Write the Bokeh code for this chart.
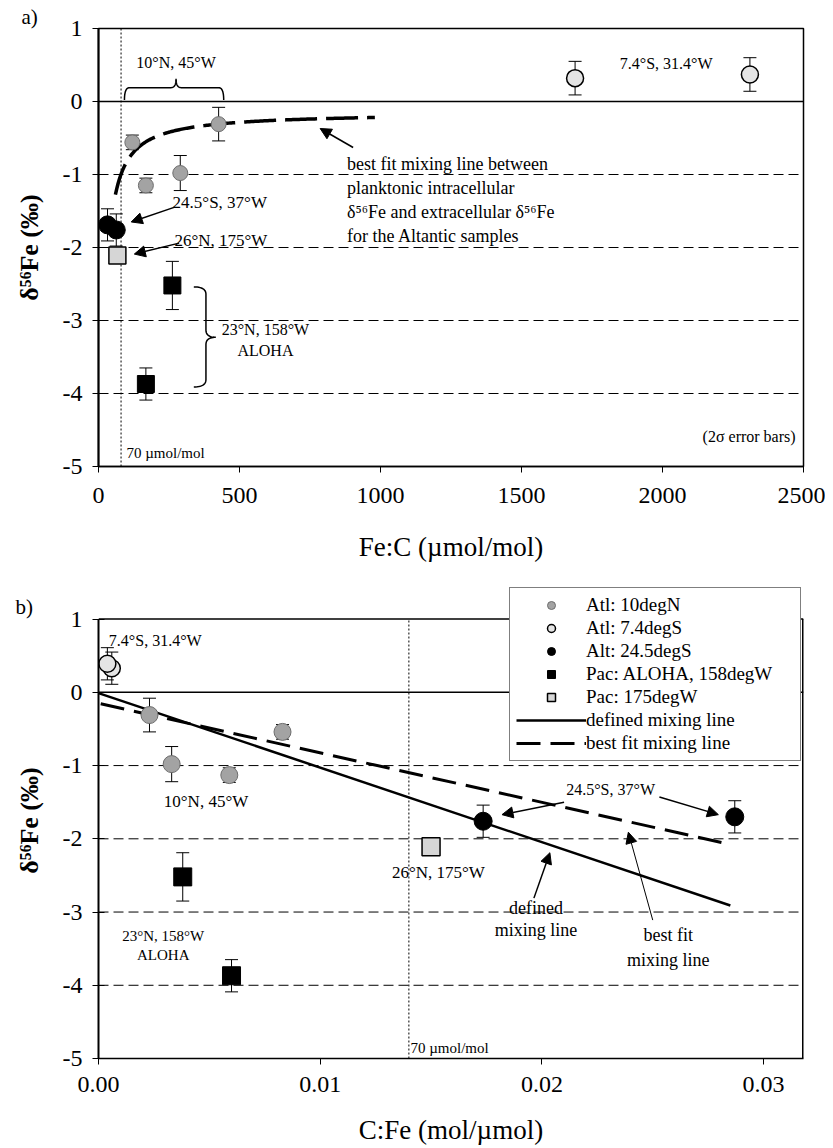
import numpy as np
from bokeh.plotting import figure
from bokeh.models import (Range1d, FixedTicker, Span, Label, Arrow, NormalHead, Whisker, TeeHead,
                          ColumnDataSource, Legend, LegendItem, NumeralTickFormatter, Title)
from bokeh.layouts import column
from bokeh.embed import file_html
from bokeh.resources import INLINE

FONT = "Liberation Serif"

# ---------------- data: panel a, Fe:C (umol/mol) vs d56Fe (permil) ----------------
a_atl10_x = [120, 168, 290, 426]
a_atl10_y = [-0.56, -1.15, -0.98, -0.31]
a_atl10_e = [0.10, 0.10, 0.24, 0.23]
a_atl74_x = [1690, 2310]
a_atl74_y = [0.32, 0.37]
a_atl74_e = [0.23, 0.23]
a_atl245_x = [32, 63]
a_atl245_y = [-1.69, -1.76]
a_atl245_e = [0.22, 0.22]
a_aloha_x = [262, 168]
a_aloha_y = [-2.52, -3.87]
a_aloha_e = [0.33, 0.22]
a_pac175_x = [67]
a_pac175_y = [-2.11]

# ---------------- data: panel b, C:Fe (mol/umol) vs d56Fe (permil) ----------------
b_atl10_x = [0.0083, 0.0059, 0.0033, 0.0023]
b_atl10_y = [-0.54, -1.13, -0.98, -0.31]
b_atl10_e = [0.10, 0.10, 0.24, 0.23]
b_atl74_x = [0.0006, 0.0004]
b_atl74_y = [0.33, 0.39]
b_atl74_e = [0.22, 0.22]
b_atl245_x = [0.0287, 0.01735]
b_atl245_y = [-1.70, -1.76]
b_atl245_e = [0.22, 0.22]
b_aloha_x = [0.0038, 0.0060]
b_aloha_y = [-2.52, -3.87]
b_aloha_e = [0.33, 0.22]
b_pac175_x = [0.0150]
b_pac175_y = [-2.11]

# mixing lines (linear in C:Fe)
fit_intercept, fit_slope = -0.15, -67.6       # best fit mixing line
fit_b_range = [0.0001, 0.0284]
fit_a_range = [60, 980]                       # same line in Fe:C space
def_intercept, def_slope = -0.01, -101.8      # defined mixing line
def_b_range = [0.0, 0.0285]

vline_a = 80        # "70 umol/mol" marker line as drawn
vline_b = 0.0140

Y_MIN, Y_MAX = -5, 1
XA_MAX = 2500
XB_MAX = 0.0318
Y_MAX_B_VIEW = 1.5    # panel b frame extends above 1 to hold the legend

y_ticks = [-5, -4, -3, -2, -1, 0, 1]
xa_ticks = [0, 500, 1000, 1500, 2000, 2500]
xb_ticks = [0, 0.01, 0.02, 0.03]

legend_labels = ["Atl: 10degN", "Atl: 7.4degS", "Alt: 24.5degS", "Pac: ALOHA, 158degW",
                 "Pac: 175degW", "defined mixing line", "best fit mixing line"]

STY_10N = dict(marker="circle", fill_color="#a3a3a3", line_color="#6e6e6e", line_width=1)
STY_74S = dict(marker="circle", fill_color="#e4e4e4", line_color="black", line_width=1.5)
STY_245 = dict(marker="circle", fill_color="black", line_color="black")
STY_ALO = dict(marker="square", fill_color="black", line_color="black")
STY_175 = dict(marker="square", fill_color="#d6d6d6", line_color="black", line_width=1.5)


def style(p, tick_standoff, xlab_standoff):
    p.xgrid.visible = False
    p.ygrid.visible = False
    p.background_fill_color = "white"
    p.border_fill_color = "white"
    for ax in (p.xaxis[0], p.yaxis[0]):
        ax.major_label_text_font = FONT
        ax.major_label_text_font_size = "24px"
        ax.major_label_text_color = "black"
        ax.axis_label_text_font = FONT
        ax.axis_label_text_color = "black"
        ax.axis_line_color = "black"
        ax.major_tick_line_color = "black"
        ax.minor_tick_line_color = None
    ya = p.yaxis[0]
    ya.ticker = FixedTicker(ticks=y_ticks)
    ya.major_label_overrides = {t: str(t) for t in y_ticks}
    ya.major_tick_in = 6
    ya.major_tick_out = 6
    ya.major_label_standoff = 10
    ya.axis_line_width = 2
    ya.bounds = (Y_MIN, Y_MAX)
    ya.axis_label = "δ⁵⁶Fe (‰)"
    ya.axis_label_text_font_size = "26px"
    ya.axis_label_text_font_style = "bold"
    ya.axis_label_standoff = 16
    xa = p.xaxis[0]
    xa.major_tick_in = 0
    xa.major_tick_out = 6
    xa.major_label_standoff = tick_standoff
    xa.axis_line_width = 1.5
    xa.axis_label_text_font_size = "27px"
    xa.axis_label_text_font_style = "normal"
    xa.axis_label_standoff = xlab_standoff
    for loc in [-1, -2, -3, -4]:
        p.add_layout(Span(location=loc, dimension="width", line_color="black",
                          line_width=1, line_dash="10 5", level="underlay"))
    p.add_layout(Span(location=0, dimension="width", line_color="black",
                      line_width=1.5, level="underlay"))


def panel_tag(p, text, offset, standoff):
    p.add_layout(Title(text=text, align="left", offset=offset, standoff=standoff,
                       text_font=FONT, text_font_size="21px", text_font_style="normal",
                       text_color="black"), "above")


def label(p, x, y, text, size=16, align="center"):
    p.add_layout(Label(x=x, y=y, text=text, text_font=FONT, text_font_size=f"{size}px",
                       text_align=align, text_baseline="middle", text_color="black"))


def arrow(p, x0, y0, x1, y1, w=1.5, head=11):
    p.add_layout(Arrow(end=NormalHead(size=head, fill_color="black", line_color="black", line_width=1),
                       x_start=x0, y_start=y0, x_end=x1, y_end=y1,
                       line_color="black", line_width=w))


def errbars(p, xs, ys, es, cap=13):
    src = ColumnDataSource(dict(x=xs, lo=[y - e for y, e in zip(ys, es)],
                                hi=[y + e for y, e in zip(ys, es)]))
    p.add_layout(Whisker(source=src, base="x", lower="lo", upper="hi", dimension="height",
                         line_color="black", line_width=1,
                         lower_head=TeeHead(size=cap, line_color="black", line_width=1),
                         upper_head=TeeHead(size=cap, line_color="black", line_width=1)))


def qbez(p0, c, p1, n=14):
    t = np.linspace(0, 1, n)[:, None]
    p0, c, p1 = np.array(p0, float), np.array(c, float), np.array(p1, float)
    return (1 - t) ** 2 * p0 + 2 * (1 - t) * t * c + t ** 2 * p1


def brace_pts(a0, a1, am, b_end, b_body, b_tip, r):
    """Brace along axis 'a' from a0 to a1, tip at am; 'b' is the perpendicular axis."""
    segs = [qbez((a0, b_end), (a0, b_body), (a0 + r, b_body)),
            np.array([(am - r, b_body)]),
            qbez((am - r, b_body), (am, b_body), (am, b_tip)),
            qbez((am, b_tip), (am, b_body), (am + r, b_body)),
            np.array([(a1 - r, b_body)]),
            qbez((a1 - r, b_body), (a1, b_body), (a1, b_end))]
    pts = np.vstack(segs)
    return pts[:, 0], pts[:, 1]


# ======================= panel a =======================
pa = figure(width=825, height=580, x_range=Range1d(0, XA_MAX), y_range=Range1d(Y_MIN, Y_MAX),
            output_backend="svg", toolbar_location=None,
            min_border_left=94, min_border_right=22, min_border_top=28, min_border_bottom=114)
style(pa, 15, 26)
pa.outline_line_color = "black"
pa.outline_line_width = 1.5
pa.xaxis[0].ticker = FixedTicker(ticks=xa_ticks)
pa.xaxis[0].axis_label = "Fe:C (µmol/mol)"
pa.add_layout(Span(location=vline_a, dimension="height", line_color="black",
                   line_width=1, line_dash="2 2", level="underlay"))
panel_tag(pa, "a)", -77, 0)

xa_curve = np.linspace(fit_a_range[0], fit_a_range[1], 200)
pa.line(xa_curve, fit_intercept + fit_slope / xa_curve, line_color="black",
        line_width=3.5, line_dash="32 9")

errbars(pa, a_atl10_x, a_atl10_y, a_atl10_e)
errbars(pa, a_atl74_x, a_atl74_y, a_atl74_e)
errbars(pa, a_atl245_x, a_atl245_y, a_atl245_e)
errbars(pa, a_aloha_x, a_aloha_y, a_aloha_e)
pa.scatter(a_atl10_x, a_atl10_y, size=15, **STY_10N)
pa.scatter(a_atl74_x, a_atl74_y, size=17, **STY_74S)
pa.scatter(a_atl245_x, a_atl245_y, size=18, **STY_245)
pa.scatter(a_aloha_x, a_aloha_y, size=17, **STY_ALO)
pa.scatter(a_pac175_x, a_pac175_y, size=17, **STY_175)

bx, by = brace_pts(92, 444, 275, 0.02, 0.19, 0.31, 18)
pa.line(bx, by, line_color="black", line_width=1.5)
by2, bx2 = brace_pts(-2.54, -3.91, -3.23, 338, 381, 416, -0.1)
pa.line(bx2, by2, line_color="black", line_width=1.5)

label(pa, 275, 0.53, "10°N, 45°W", 16)
label(pa, 2013, 0.52, "7.4°S, 31.4°W", 16)
arrow(pa, 903, -0.63, 786, -0.37)
for yy, tt in zip([-0.85, -1.18, -1.52, -1.84],
                  ["best fit mixing line between", "planktonic intracellular",
                   "δ⁵⁶Fe and extracellular δ⁵⁶Fe", "for the Altantic samples"]):
    label(pa, 881, yy, tt, 18, "left")
label(pa, 430, -1.39, "24.5°S, 37°W", 17)
arrow(pa, 268, -1.45, 116, -1.65)
label(pa, 434, -1.90, "26°N, 175°W", 17)
arrow(pa, 286, -1.94, 127, -2.09)
label(pa, 592, -3.12, "23°N, 158°W", 16)
label(pa, 592, -3.41, "ALOHA", 16)
label(pa, 99, -4.81, "70 µmol/mol", 15, "left")
label(pa, 2472, -4.59, "(2σ error bars)", 16, "right")

# ======================= panel b =======================
pb = figure(width=825, height=568, x_range=Range1d(0, XB_MAX),
            y_range=Range1d(Y_MIN, Y_MAX_B_VIEW),
            output_backend="svg", toolbar_location=None,
            min_border_left=98, min_border_right=18, min_border_top=2, min_border_bottom=90)
style(pb, 12, 20)
pb.outline_line_color = None
pb.xaxis[0].ticker = FixedTicker(ticks=xb_ticks)
pb.xaxis[0].formatter = NumeralTickFormatter(format="0.00")
pb.xaxis[0].axis_label = "C:Fe (mol/µmol)"
panel_tag(pb, "b)", -83, -72)
# frame edges at y = 1 and x = right limit
pb.add_layout(Span(location=Y_MAX, dimension="width", line_color="black",
                   line_width=1.5, level="underlay"))
pb.segment(x0=[XB_MAX], y0=[Y_MIN], x1=[XB_MAX], y1=[Y_MAX], line_color="black", line_width=3)
pb.segment(x0=[vline_b], y0=[Y_MIN], x1=[vline_b], y1=[Y_MAX], line_color="black",
           line_width=1, line_dash="2 2", level="underlay")

xd = np.array(def_b_range)
r_def = pb.line(xd, def_intercept + def_slope * xd, line_color="black", line_width=2.5)
xf = np.array(fit_b_range)
r_fit = pb.line(xf, fit_intercept + fit_slope * xf, line_color="black", line_width=3,
                line_dash="24 10")

errbars(pb, b_atl10_x, b_atl10_y, b_atl10_e)
errbars(pb, b_atl74_x, b_atl74_y, b_atl74_e)
errbars(pb, b_atl245_x, b_atl245_y, b_atl245_e)
errbars(pb, b_aloha_x, b_aloha_y, b_aloha_e)
r1 = pb.scatter(b_atl10_x, b_atl10_y, size=17, **STY_10N)
r2 = pb.scatter(b_atl74_x, b_atl74_y, size=17, **STY_74S)
r3 = pb.scatter(b_atl245_x, b_atl245_y, size=18, **STY_245)
r4 = pb.scatter(b_aloha_x, b_aloha_y, size=18, **STY_ALO)
r5 = pb.scatter(b_pac175_x, b_pac175_y, size=18, **STY_175)

label(pb, 0.00256, 0.71, "7.4°S, 31.4°W", 16)
label(pb, 0.00485, -1.49, "10°N, 45°W", 17)
label(pb, 0.01533, -2.46, "26°N, 175°W", 17)
label(pb, 0.0231, -1.33, "24.5°S, 37°W", 16)
arrow(pb, 0.0210, -1.50, 0.0182, -1.67)
arrow(pb, 0.0253, -1.43, 0.02796, -1.67)
label(pb, 0.01973, -2.94, "defined", 18)
label(pb, 0.01973, -3.25, "mixing line", 18)
arrow(pb, 0.01964, -2.81, 0.02036, -2.19)
label(pb, 0.0257, -3.32, "best fit", 18)
label(pb, 0.0257, -3.65, "mixing line", 18)
arrow(pb, 0.0250, -3.11, 0.0239, -1.91, w=1)
label(pb, 0.00292, -3.33, "23°N, 158°W", 15)
label(pb, 0.00292, -3.59, "ALOHA", 15)
label(pb, 0.01407, -4.85, "70 µmol/mol", 15, "left")

legend = Legend(items=[LegendItem(label=t, renderers=[r])
                       for t, r in zip(legend_labels, [r1, r2, r3, r4, r5, r_def, r_fit])],
                location=(411, 297), label_text_font=FONT, label_text_font_size="19px",
                label_text_color="black", glyph_width=70, glyph_height=20, label_height=20,
                label_width=208, label_standoff=0, spacing=1, padding=6, margin=0,
                border_line_color="black", border_line_width=1, background_fill_alpha=1.0)
pb.add_layout(legend)

layout = column(pa, pb)
open("out.html", "w").write(file_html(layout, INLINE))
